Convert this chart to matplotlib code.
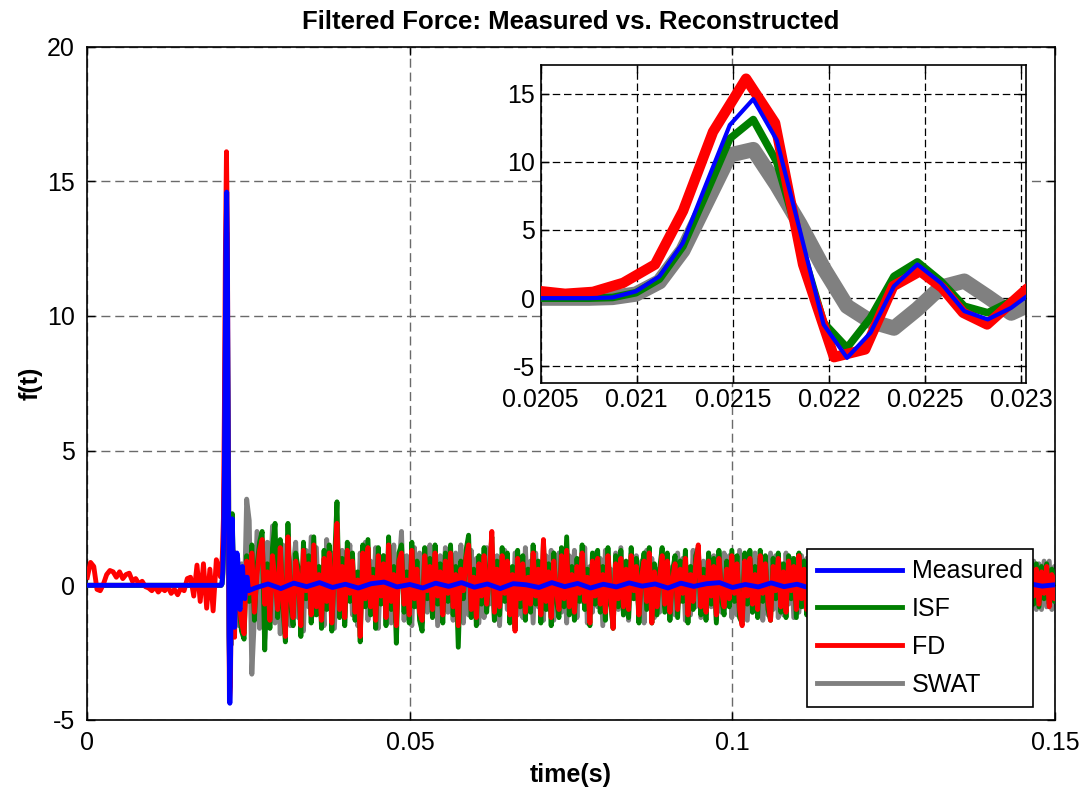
import matplotlib
matplotlib.use("Agg")
import matplotlib.pyplot as plt
import numpy as np

plt.rcParams["font.family"] = ["Liberation Sans", "DejaVu Sans"]

FS = 8192.0  # sample rate around the hit

# before the hit: only the FD reconstruction is not flat
t_pre = np.arange(41) * 0.0005
fd_pre = [0.3, 0.85, 0.7, -0.15, -0.2, 0.05, 0.4, 0.55, 0.5, 0.3,
          0.5, 0.25, 0.4, 0.45, 0.15, 0.25, 0.05, 0.15, -0.05, -0.1,
          -0.2, -0.05, -0.25, -0.1, -0.2, -0.05, -0.3, -0.15, -0.35, -0.1,
          -0.2, 0.25, 0.3, -0.4, 0.75, -0.6, 0.8, -0.85, 0.6, -0.95,
          0.95]
flat_pre = [0.0] * len(t_pre)

# the hit, samples 168..189
t_hit = np.arange(168, 190) / FS
meas_hit = [0.0, 0.0, 0.0, 0.05, 0.5, 1.6, 4.05, 8.4, 12.7, 14.6, 11.6,
            4.9, -1.93, -4.38, -2.54, 0.88, 2.47, 1.12, -0.95, -1.56, -0.71, 0.56]
isf_hit = [0.0, 0.0, 0.0, 0.05, 0.4, 1.4, 3.8, 7.7, 11.7, 13.1, 10.0,
           4.05, -1.8, -3.64, -1.44, 1.6, 2.66, 1.25, -0.59, -1.07, -0.22, 0.4]
swat_hit = [0.0, 0.0, 0.0, 0.05, 0.3, 1.2, 3.5, 7.0, 10.5, 10.9, 8.3,
            5.4, 2.2, -0.6, -1.7, -2.2, -0.8, 0.8, 1.25, 0.1, -1.1, -0.3]
t_fd_hit = [0.020501, 0.020627, 0.020772, 0.020929, 0.021095, 0.021241,
            0.021397, 0.021569, 0.021720, 0.021866, 0.022027, 0.022189,
            0.022335, 0.022475, 0.022590, 0.022699, 0.022824, 0.023033]
fd_hit = [0.51, 0.32, 0.46, 1.12, 2.47, 6.4, 12.2, 16.1, 12.85, 2.47,
          -4.33, -3.76, 0.88, 1.98, 0.76, -1.07, -1.93, 0.71]

# measured force ringing down, samples 190..205
t_ring = np.arange(190, 206) / FS
meas_ring = [1.2, 1.0, 0.1, -0.8, -0.9, -0.3, 0.5, 0.7, 0.2, -0.4,
             -0.5, -0.1, 0.3, 0.3, 0.0, -0.2]

# tail from 0.0235 s, 0.4 ms step
fd_tail = [
    -0.6, -1.4, -1.8, 0.9, -0.3, 1.2, -1.0, 0.4, 1.3, 1.7,
    -0.7, 0.5, -1.3, 1.1, 0.2, -0.9, 1.4, -0.5, -1.9, 1.8,
    -0.4, -1.2, 0.9, 0.3, -1.5, 1.3, -0.2, 0.8, -1.1, 1.5,
    -0.8, 0.4, -1.3, 1.0, -0.6, 1.2, -1.4, 0.5, 2.3, -0.9,
    0.7, -1.2, 1.3, -0.3, 0.9, -1.0, 0.2, -1.9, 1.2, -0.5,
    1.4, -0.8, 0.3, -1.3, 1.1, -0.4, 0.8, -1.2, 1.5, -0.6,
    0.4, -1.5, 0.9, 1.2, -0.7, 0.2, -1.1, 1.3, -0.5, 0.6,
    -1.0, -1.3, 1.1, -0.2, 0.7, -0.9, 1.2, -0.4, 0.5, -1.1,
    0.9, -0.3, 1.2, -0.8, 0.4, -1.5, 0.6, -0.2, 1.0, 1.5,
    -0.9, 0.3, -1.2, 0.8, -0.4, 1.1, -0.7, 0.2, 2.0, -1.0,
    0.6, -0.8, 1.1, -0.3, 0.9, -1.1, 0.4, -1.7, 1.0, -0.5,
    0.8, -1.0, 0.3, -0.7, 1.2, -0.4, 0.6, -1.1, 1.7, -0.6,
    0.5, -1.2, 0.9, -0.2, -0.9, 1.1, -0.5, 1.3, -0.8, 0.4,
    -1.0, 0.7, -0.3, 1.2, -0.6, 0.3, -1.4, 0.9, -0.4, 1.0,
    -0.7, 0.4, -1.0, 1.1, -0.3, -1.6, 0.8, -0.5, 1.0, -0.8,
    0.6, -0.9, 1.1, -0.2, 0.7, -1.1, 0.3, 0.9, -0.6, 1.2,
    -1.4, 0.5, -0.8, 0.3, 1.1, -0.7, 0.9, -1.0, 0.2, 0.8,
    -0.9, 0.6, -0.3, 1.0, -1.1, 0.4, -0.6, 0.8, 1.5, -0.8,
    0.3, -1.0, 0.9, -0.4, 0.7, -1.1, 1.0, -0.2, -0.8, 0.6,
    -0.5, 1.1, -0.3, 0.8, -0.9, -1.5, 0.9, -0.4, 1.0, -0.7,
    0.4, -0.9, 1.1, -0.3, 0.8, -0.6, -1.3, 0.7, -0.2, 1.0,
    -0.8, 0.5, -1.0, 0.9, -0.2, 0.7, -0.9, 1.1, -0.5, 0.6,
    -0.9, 0.3, 1.0, -0.7, 0.4, -1.0, 0.8, -0.3, 0.9, -0.8,
    0.5, -0.9, 0.7, -0.2, 1.0, -0.8, 0.3, -0.6, 0.9, -1.0,
    0.6, -0.4, 0.9, -0.9, 0.2, 0.8, -0.7, 0.4, -1.0, 0.7,
    -0.5, 0.9, -0.8, 0.3, -0.6, 1.0, -0.9, 0.5, -0.3, 0.8,
    -0.9, 0.4, 0.8, -0.7, 0.2, -0.9, 0.7, -0.4, 0.9, -0.6,
    0.5, -0.8, 0.3, 0.9, -0.6, 0.2, -0.9, 0.8, -0.3, 0.6,
    -0.8, 0.7, -0.4, 0.9, -0.7, 0.3, -0.8, 0.6, 0.8, -0.5,
    0.2, -0.9, 0.7, -0.3, 0.8, -0.7, 0.4, -0.8, 0.7, -0.2,
    0.6, -0.8, 0.3, 0.8, -0.6, 0.5, -0.8, 0.7, -0.4, 0.6,
    -0.7, 0.5, -0.3, 0.7, -0.8, 0.4, -0.5, 0.3]
isf_tail = [
    -0.8, -1.7, -2.0, 1.1, -0.6, 1.5, -1.3, 0.7, 1.6, 2.0,
    -2.4, 0.8, -1.6, 1.4, 2.3, -1.2, 1.7, -0.8, -2.1, 2.3,
    -0.7, -1.5, 1.2, 0.6, -1.9, 1.6, -0.5, 1.1, -1.4, 1.8,
    -1.1, 0.7, -1.6, 1.3, -0.9, 1.5, -1.7, 0.8, 3.1, -1.2,
    1.0, -1.5, 1.6, -0.6, 1.2, -1.3, 0.5, -2.1, 1.5, -0.8,
    1.7, -1.1, 0.6, -1.6, 1.4, -0.7, 1.1, -1.5, 1.8, -0.9,
    0.7, -2.15, 1.2, 1.5, -1.0, 0.5, -1.4, 1.6, -0.8, 0.9,
    -1.3, -1.7, 1.4, -0.5, 1.0, -1.2, 1.5, -0.7, 0.8, -1.4,
    1.2, -0.6, 1.5, -1.1, 0.7, -2.3, 0.9, -0.5, 1.3, 1.86,
    -1.2, 0.6, -1.5, 1.1, -0.7, 1.4, -1.0, 0.5, 1.8, -1.3,
    0.9, -1.1, 1.4, -0.6, 1.2, -1.4, 0.7, -1.6, 1.3, -0.8,
    1.1, -1.3, 0.6, -1.0, 1.5, -0.7, 0.9, -1.4, 1.6, -0.9,
    0.8, -1.5, 1.2, -0.5, -1.2, 1.4, -0.8, 1.8, -1.1, 0.7,
    -1.3, 1.0, -0.6, 1.5, -0.9, 0.6, -1.5, 1.2, -0.7, 1.3,
    -1.0, 0.7, -1.3, 1.4, -0.6, -1.6, 1.1, -0.8, 1.3, -1.1,
    0.9, -1.2, 1.4, -0.5, 1.0, -1.4, 0.6, 1.2, -0.9, 1.4,
    -1.4, 0.8, -1.1, 0.6, 1.4, -1.0, 1.2, -1.3, 0.5, 1.1,
    -1.2, 0.9, -0.6, 1.3, -1.4, 0.7, -0.9, 1.1, 1.4, -1.1,
    0.6, -1.3, 1.2, -0.7, 1.0, -1.4, 1.3, -0.5, -1.1, 0.9,
    -0.8, 1.3, -0.6, 1.1, -1.2, -1.4, 1.2, -0.7, 1.3, -1.0,
    0.7, -1.2, 1.3, -0.6, 1.1, -0.9, -1.3, 1.0, -0.5, 1.2,
    -1.0, 0.8, -1.2, 1.1, -0.5, 1.0, -1.2, 1.2, -0.8, 0.9,
    -1.1, 0.6, 1.2, -1.0, 0.7, -1.2, 1.0, -0.6, 1.1, -1.0,
    0.8, -1.1, 1.0, -0.5, 1.2, -1.0, 0.6, -0.9, 1.1, -1.2,
    0.9, -0.7, 1.1, -1.1, 0.5, 1.0, -1.0, 0.7, -1.2, 0.9,
    -0.8, 1.1, -1.0, 0.6, -0.9, 1.2, -1.1, 0.8, -0.6, 1.0,
    -1.1, 0.7, 1.0, -0.9, 0.5, -1.1, 0.9, -0.7, 1.1, -0.8,
    0.7, -1.0, 0.6, 1.1, -0.8, 0.5, -1.1, 1.0, -0.6, 0.8,
    -1.0, 0.9, -0.7, 1.1, -0.9, 0.6, -1.0, 0.8, 1.0, -0.8,
    0.5, -1.1, 0.9, -0.6, 1.0, -0.9, 0.7, -1.0, 0.9, -0.5,
    0.8, -1.0, 0.6, 1.0, -0.8, 0.7, -1.0, 0.9, -0.7, 0.8,
    -0.8, 0.7, -0.5, 0.8, -0.7, 0.6, -0.6, 0.5]
swat_tail = [
    -1.5, 0.8, -1.0, 3.2, 2.4, -3.3, -1.2, 2.0, -1.6, 1.2,
    -2.0, 1.6, -0.6, 2.2, -1.4, 0.9, -1.8, 1.5, -0.4, 1.9,
    -1.5, 0.7, 1.6, -1.2, 0.4, -1.7, 1.3, -0.8, 1.8, -1.1,
    1.4, -0.9, 0.5, -1.5, 1.7, -0.5, 1.2, -1.6, 0.9, -1.0,
    1.3, -1.4, 0.6, 1.5, -1.1, 0.3, -1.5, 1.2, -0.8, 1.6,
    -1.3, 0.9, -0.5, 1.4, -1.6, 0.7, 1.1, -1.2, 0.4, -1.4,
    1.5, -0.9, 0.6, 2.0, -1.3, 1.1, -0.4, -1.5, 1.4, -0.8,
    1.2, -1.4, 0.5, -1.0, 1.5, -0.6, 0.9, -1.5, 1.1, -0.7,
    1.4, -1.0, 0.4, -1.3, 1.2, -0.8, 1.5, -1.4, 0.7, -1.1,
    1.3, -0.5, 1.0, -1.4, 0.8, -1.2, 1.4, -0.7, 0.5, -1.3,
    1.1, -1.5, 0.7, 1.3, -0.9, 0.4, -1.3, 1.2, -1.1, 0.8,
    -1.2, 1.4, -0.6, 0.9, -1.4, 1.2, -0.8, 0.5, -1.3, 1.1,
    -0.9, 1.3, -1.3, 0.6, 1.2, -1.0, 0.8, -1.4, 1.1, -0.5,
    1.3, -1.2, 0.9, -0.6, 1.4, -1.4, 0.7, -1.0, 1.2, -0.8,
    1.0, -1.5, 1.3, -0.7, 0.6, -1.3, 1.2, -0.9, 1.4, -1.1,
    0.8, -1.3, 1.2, -0.5, 1.1, -1.2, 0.9, -1.4, 1.3, -0.6,
    1.0, -1.2, 0.6, -1.0, 1.3, -0.8, 1.1, -1.3, 0.7, -1.1,
    1.2, -0.6, 1.0, -1.3, 0.5, -1.1, 1.3, -0.8, 1.0, -1.2,
    0.9, -1.1, 1.2, -0.8, 1.1, -1.3, 0.6, -1.0, 1.2, -0.7,
    1.1, -1.2, 0.7, -1.1, 1.3, -0.9, 1.0, -1.3, 0.8, -1.0,
    1.2, -0.8, 1.0, -1.3, 0.6, -1.1, 1.2, -0.9, 1.1, -1.2,
    0.8, -1.1, 1.2, -0.7, 1.0, -1.2, 0.9, -1.0, 1.1, -0.8,
    1.0, -1.2, 0.7, -1.0, 1.1, -0.9, 1.2, -1.1, 0.8, -1.0,
    1.1, -0.8, 1.0, -1.2, 0.7, -1.0, 1.1, -0.9, 1.0, -1.1,
    0.9, -1.1, 1.1, -0.8, 1.0, -1.2, 0.8, -1.0, 1.2, -0.9,
    1.0, -1.0, 0.8, -1.1, 1.1, -0.9, 1.0, -1.1, 0.9, -1.0,
    1.1, -0.9, 1.0, -1.0, 0.8, -1.1, 1.0, -0.8, 1.1, -1.0,
    0.9, -1.1, 0.8, -0.9, 1.0, -1.0, 0.9, -1.1, 1.0, -0.8,
    1.0, -0.9, 1.1, -1.0, 0.8, -1.0, 1.0, -0.9, 0.9, -1.1,
    0.8, -1.0, 0.9, -0.8, 1.0, -0.9, 0.8, -1.0, 0.9, -0.9,
    0.9, -0.8, 1.0, -0.9, 0.8, -1.0, 0.9, -0.8, 0.9, -0.9,
    0.8, -0.9, 0.9, -0.8, 0.9, -0.9, 0.7, -0.6]

# measured force after it has settled, 2 ms step
meas_tail = [-0.1, 0.05, -0.12, 0.08, -0.05, 0.1, -0.08, 0.04, -0.1, 0.06,
             0.12, -0.06, 0.03, -0.1, 0.08, -0.04, 0.1, -0.07, 0.05, -0.12,
             0.06, 0.02, -0.08, 0.1, -0.05, 0.07, -0.1, 0.04, -0.06, 0.09,
             -0.03, 0.05, -0.1, 0.08, -0.04, 0.06, 0.1, -0.08, 0.03, -0.06,
             0.09, -0.05, 0.04, -0.1, 0.07, -0.03, 0.06, -0.08, 0.05, -0.04,
             0.08, -0.06, 0.03, -0.09, 0.05, -0.02, 0.07, -0.05, 0.04, -0.07,
             0.06, -0.03, 0.02]


def tail_time(values, start=0.0235, step=0.0004):
    return start + step * np.arange(len(values))


series = {
    "Measured": (np.concatenate([t_pre, t_hit, t_ring, tail_time(meas_tail, 0.026, 0.002)]),
                 np.concatenate([flat_pre, meas_hit, meas_ring, meas_tail])),
    "ISF": (np.concatenate([t_pre, t_hit, tail_time(isf_tail)]),
            np.concatenate([flat_pre, isf_hit, isf_tail])),
    "FD": (np.concatenate([t_pre, t_fd_hit, tail_time(fd_tail)]),
           np.concatenate([fd_pre, fd_hit, fd_tail])),
    "SWAT": (np.concatenate([t_pre, t_hit, tail_time(swat_tail)]),
             np.concatenate([flat_pre, swat_hit, swat_tail])),
}
colors = {"Measured": "#0000ff", "ISF": "#007f00", "FD": "#ff0000", "SWAT": "#808080"}
zorders = {"Measured": 5, "ISF": 3, "FD": 4, "SWAT": 2}
inset_lw = {"Measured": 3.0, "ISF": 5.5, "FD": 7.5, "SWAT": 11.0}

FONT = 18


def style_axes(ax, dashes):
    ax.grid(True, color="#6a6a6a", lw=1.0, dashes=dashes)
    ax.set_axisbelow(True)
    ax.tick_params(direction="in", length=6, width=1.0, top=True, right=True,
                   labelsize=FONT, colors="black")
    for sp in ax.spines.values():
        sp.set_linewidth(1.2)
        sp.set_color("black")


fig = plt.figure(figsize=(10.86, 7.91), dpi=100)
ax = fig.add_axes([0.0804, 0.0898, 0.8911, 0.8512])

for name, (t, y) in series.items():
    ax.plot(t, y, color=colors[name], lw=3.5, zorder=zorders[name],
            solid_joinstyle="round", label=name)

ax.set_xlim(0, 0.15)
ax.set_ylim(-5, 20)
ax.set_xticks([0, 0.05, 0.1, 0.15])
ax.set_xticklabels(["0", "0.05", "0.1", "0.15"])
ax.set_yticks([-5, 0, 5, 10, 15, 20])
ax.set_yticklabels(["-5", "0", "5", "10", "15", "20"])
style_axes(ax, (6.5, 3.5))
ax.tick_params(axis="x", pad=8)
ax.tick_params(axis="y", pad=9)
ax.set_title("Filtered Force: Measured vs. Reconstructed", fontsize=18.5,
             fontweight="bold", pad=13)
ax.set_xlabel("time(s)", fontsize=18, fontweight="bold", labelpad=6)
ax.set_ylabel("f(t)", fontsize=18, fontweight="bold", labelpad=3)

handles, labels = ax.get_legend_handles_labels()
leg = ax.legend(handles, labels, loc="lower right",
                bbox_to_anchor=(0.9509, 0.1066), bbox_transform=fig.transFigure,
                fontsize=FONT, fancybox=False, framealpha=1, edgecolor="black",
                handlelength=3.4, handletextpad=0.4, labelspacing=0.55,
                borderpad=0.4, borderaxespad=0)
leg.get_frame().set_linewidth(1.2)
leg.set_zorder(10)

# zoom on the hit
ax_in = fig.add_axes([0.4979, 0.5162, 0.4466, 0.4016])
ax_in.set_facecolor("white")
for name, (t, y) in series.items():
    ax_in.plot(t, y, color=colors[name], lw=inset_lw[name], zorder=zorders[name],
               solid_joinstyle="round")
ax_in.set_xlim(0.0205, 0.023025)
ax_in.set_ylim(-6.2, 17.1)
ax_in.set_xticks([0.0205, 0.021, 0.0215, 0.022, 0.0225, 0.023])
ax_in.set_xticklabels(["0.0205", "0.021", "0.0215", "0.022", "0.0225", "0.023"])
ax_in.set_yticks([-5, 0, 5, 10, 15])
ax_in.set_yticklabels(["-5", "0", "5", "10", "15"])
style_axes(ax_in, (6.0, 3.0))
ax_in.grid(True, color="black", lw=0.9, dashes=(6.0, 3.0))
ax_in.tick_params(axis="both", pad=4)

fig.savefig("out.png", dpi=100)
